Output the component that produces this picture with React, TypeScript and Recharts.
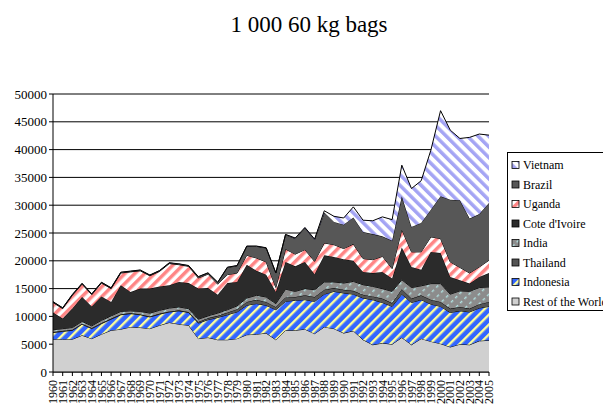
import React from 'react';
import { AreaChart, Area, XAxis, YAxis, CartesianGrid } from 'recharts';

const YEARS = [
  '1960','1961','1962','1963','1964','1965','1966','1967','1968','1969',
  '1970','1971','1972','1973','1974','1975','1976','1977','1978','1979',
  '1980','1981','1982','1983','1984','1985','1986','1987','1988','1989',
  '1990','1991','1992','1993','1994','1995','1996','1997','1998','1999',
  '2000','2001','2002','2003','2004','2005',
];

const REST = [
  5900,5900,5900,6600,6000,6800,7500,7700,8100,8000,
  7800,8400,8900,8600,8400,6000,6200,5800,5800,6000,
  6700,6800,7000,5800,7500,7500,7700,6900,8100,7800,
  7000,7400,5800,4900,5200,5000,6200,4900,6000,5500,
  5100,4500,5000,4900,5600,5700,
];
const INDONESIA = [
  1200,1400,1600,2000,1800,1900,2000,2600,2400,2300,
  2100,2000,1900,2400,2300,2800,3200,4000,4500,4800,
  5300,5500,5000,5400,5200,5400,5300,5800,5900,6700,
  7200,6600,7500,8100,7300,6800,7800,7600,7000,6700,
  6700,6200,6000,5900,5900,6100,
];
const THAILAND = [
  100,100,100,100,100,100,100,100,100,100,
  100,100,100,100,100,200,300,300,400,500,
  600,700,600,500,700,600,800,800,800,600,
  600,600,600,600,700,600,900,700,800,800,
  800,700,700,600,700,800,
];
const INDIA = [
  400,400,400,400,400,500,500,500,400,500,
  600,600,600,600,600,500,400,500,500,600,
  700,800,900,600,1500,1000,1200,1300,1400,1100,
  1200,1700,1800,1800,1800,2100,1700,2000,1700,2900,
  3300,2600,2900,3100,3000,2700,
];
const COTE_DIVOIRE = [
  3100,1800,3400,4400,3500,4300,2500,4700,3400,4100,
  4400,4300,4100,4500,4600,5500,5000,3300,4800,4300,
  6000,4400,4000,2100,4900,4500,4800,2800,4800,4500,
  4300,3700,2300,2400,3000,2300,5800,3700,2900,5700,
  5500,3100,1900,1400,1900,2500,
];
const UGANDA = [
  1800,1800,2400,2300,2100,2400,2400,2200,3600,3200,
  2300,2700,3900,3100,3000,1900,2500,1900,1500,1600,
  1700,2300,2300,800,2300,2200,2200,2300,2200,2200,
  1900,3000,2400,2400,2800,1800,3200,2700,3200,2700,
  2600,2700,2300,1900,1800,2300,
];
const BRAZIL = [
  100,100,100,100,100,100,100,100,100,100,
  100,100,100,100,100,200,200,300,1300,1300,
  1600,2100,2500,2600,2600,2800,3900,3900,5500,4100,
  4300,4800,4800,4600,3600,5000,6000,4500,5200,4900,
  7600,11200,12100,9800,9500,10300,
];
const VIETNAM = [
  50,50,50,50,50,50,50,50,50,50,
  50,50,50,50,50,50,50,50,50,50,
  50,50,50,50,50,100,100,100,300,1000,
  1200,1900,2100,2400,3500,3800,5600,6900,7600,10700,
  15400,12500,11100,14600,14400,12200,
];

const Y_TICKS = [0, 5000, 10000, 15000, 20000, 25000, 30000, 35000, 40000, 45000, 50000];

const SERIES = [
  { key: 'rest', name: 'Rest of the World', values: REST, fill: '#d0d0d0', pat: null },
  { key: 'indonesia', name: 'Indonesia', values: INDONESIA, fill: '#3366ff', pat: 'indo' },
  { key: 'thailand', name: 'Thailand', values: THAILAND, fill: '#555555', pat: null },
  { key: 'india', name: 'India', values: INDIA, fill: '#8c8c8c', pat: 'india' },
  { key: 'cote', name: "Cote d'Ivoire", values: COTE_DIVOIRE, fill: '#2b2b2b', pat: null },
  { key: 'uganda', name: 'Uganda', values: UGANDA, fill: '#ff8080', pat: 'uga' },
  { key: 'brazil', name: 'Brazil', values: BRAZIL, fill: '#575757', pat: null },
  { key: 'vietnam', name: 'Vietnam', values: VIETNAM, fill: '#ffffff', pat: 'viet' },
];

const FONT = '"Liberation Serif", "Times New Roman", serif';

function Patterns({ p }: { p: string }) {
  return (
    <>
      <pattern id={`${p}indo`} patternUnits="userSpaceOnUse" width="7" height="7" patternTransform="rotate(45)">
        <rect width="7" height="7" fill="#3366ff" />
        <rect width="2.4" height="7" fill="#ffff99" />
      </pattern>
      <pattern id={`${p}uga`} patternUnits="userSpaceOnUse" width="7" height="7" patternTransform="rotate(45)">
        <rect width="7" height="7" fill="#ffffff" />
        <rect width="3.5" height="7" fill="#ff8585" />
      </pattern>
      <pattern id={`${p}viet`} patternUnits="userSpaceOnUse" width="7.5" height="7.5" patternTransform="rotate(-45)">
        <rect width="7.5" height="7.5" fill="#ffffff" />
        <rect width="3.5" height="7.5" fill="#a4a4f4" />
      </pattern>
      <pattern id={`${p}india`} patternUnits="userSpaceOnUse" width="7" height="6" patternTransform="rotate(45)">
        <rect width="7" height="6" fill="#8c8c8c" />
        <rect width="1.4" height="3" fill="#b0dede" />
      </pattern>
    </>
  );
}

function XTick(props: any) {
  const { x, y, payload } = props;
  return (
    <text
      x={x}
      y={y}
      transform={`rotate(-90 ${x} ${y})`}
      textAnchor="end"
      dy="0.35em"
      fontSize={12}
      fontFamily={FONT}
      style={{ fontFamily: FONT }}
      fill="#000"
    >
      {payload.value}
    </text>
  );
}

export default function App() {
  const data = YEARS.map((year, i) => {
    const row: any = { year };
    SERIES.forEach((s) => {
      row[s.key] = s.values[i];
    });
    return row;
  });

  const legendOrder = [...SERIES].reverse();

  return (
    <div
      style={{
        position: 'absolute',
        left: 0,
        top: 0,
        width: 603,
        height: 404,
        background: '#fff',
        overflow: 'hidden',
        fontFamily: FONT,
      }}
    >
      <AreaChart
        width={603}
        height={404}
        data={data}
        margin={{ top: 94, right: 114, bottom: 0, left: 0 }}
        style={{ fontFamily: FONT }}
      >
        <defs>
          <Patterns p="c-" />
        </defs>
        <CartesianGrid horizontal vertical={false} stroke="#000" strokeWidth={1} />
        <XAxis
          dataKey="year"
          interval={0}
          height={32}
          tickSize={4}
          tickMargin={4}
          tick={<XTick />}
          tickLine={{ stroke: '#000' }}
          axisLine={{ stroke: '#000' }}
        />
        <YAxis
          width={53}
          domain={[0, 50000]}
          ticks={Y_TICKS}
          interval={0}
          tickSize={4}
          tickMargin={2}
          tick={{ fill: '#000', fontSize: 13, fontFamily: FONT, style: { fontFamily: FONT } }}
          tickLine={{ stroke: '#000' }}
          axisLine={{ stroke: '#000' }}
        />
        {SERIES.map((s) => (
          <Area
            key={s.key}
            type="linear"
            dataKey={s.key}
            name={s.name}
            stackId="1"
            stroke="#000"
            strokeWidth={1}
            fill={s.pat ? `url(#c-${s.pat})` : s.fill}
            fillOpacity={1}
            dot={false}
            activeDot={false}
            isAnimationActive={false}
          />
        ))}
      </AreaChart>

      <svg width={603} height={50} style={{ position: 'absolute', left: 0, top: 0 }}>
        <text x={309} y={32} textAnchor="middle" fontSize={23} fontFamily={FONT} fill="#000">
          1 000 60 kg bags
        </text>
      </svg>

      <svg width={100} height={160} style={{ position: 'absolute', left: 507, top: 152 }}>
        <defs>
          <Patterns p="l-" />
        </defs>
        <rect x={0.5} y={0.5} width={120} height={158} fill="#fff" stroke="#000" strokeWidth={1} />
        {legendOrder.map((s, i) => {
          const cy = 13 + i * 19.5;
          return (
            <g key={s.key}>
              <rect
                x={5}
                y={cy - 3.5}
                width={7}
                height={7}
                fill={s.pat ? `url(#l-${s.pat})` : s.fill}
                stroke="#000"
                strokeWidth={0.8}
              />
              <text x={16} y={cy} dy="0.35em" fontSize={12} fontFamily={FONT} fill="#000">
                {s.name}
              </text>
            </g>
          );
        })}
      </svg>
    </div>
  );
}
